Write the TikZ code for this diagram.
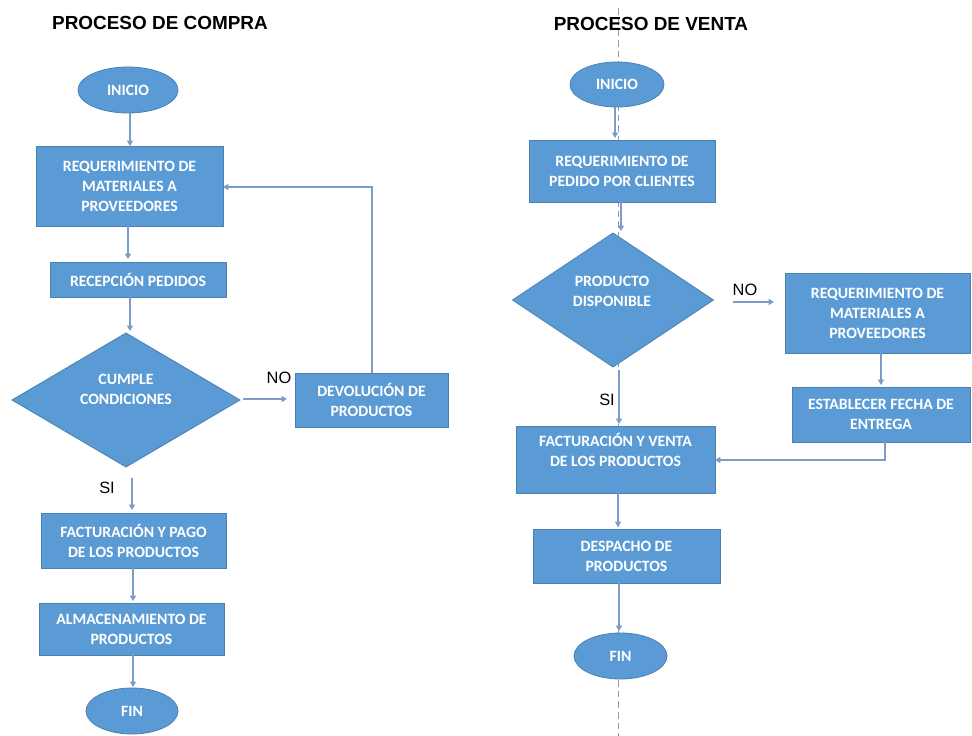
\documentclass[tikz,border=0pt]{standalone}
\usepackage{fontspec}
\setmainfont{Carlito}
\newfontfamily\labfont{Liberation Sans}
\usetikzlibrary{shapes.geometric,arrows.meta}
\definecolor{boxblue}{HTML}{5B9BD5}
\definecolor{boxedge}{HTML}{4A7FB0}
\definecolor{arrowc}{HTML}{7A9CC6}
\definecolor{dashc}{HTML}{9A9A9A}
\newdimen\px \px=0.75pt
\begin{document}
\begin{tikzpicture}[x=0.75pt,y=-0.75pt,
  every node/.style={inner sep=0pt,outer sep=0pt},
  txt/.style={text=white,font=\bfseries\fontsize{11.8}{15}\selectfont,align=center},
  proc/.style={rectangle,draw=boxedge,line width=0.6pt,fill=boxblue,txt},
  term/.style={ellipse,draw=boxedge,line width=0.6pt,fill=boxblue,txt},
  deci/.style={diamond,draw=boxedge,line width=0.6pt,fill=boxblue},
  conn/.style={draw=arrowc,line width=1.1pt,-{Triangle[length=4pt,width=4.5pt]}},
  lab/.style={font=\labfont\fontsize{12.3}{14}\selectfont,text=black},
  ttl/.style={font=\labfont\bfseries\fontsize{14.2}{16}\selectfont,text=black}
]
\useasboundingbox (0,0) rectangle (972,736);
\fill[white] (0,0) rectangle (972,736);

% dashed guide line
\coordinate (dtop) at (618,8);
\coordinate (dbot) at (618,736);
\draw[dashc,line width=0.6pt,dash pattern=on 5pt off 3pt] (dtop) -- (dbot);

% titles
\node[ttl] (t1) at (160,23) {PROCESO DE COMPRA};
\node[ttl] (t2) at (651,24) {PROCESO DE VENTA};

% ---------- left chart ----------
\node[term,minimum width=100\px,minimum height=46\px] (inicioA) at (128,90) {INICIO};
\node[proc,minimum width=187\px,minimum height=80\px] (reqA) at (129.5,186) {REQUERIMIENTO DE\\MATERIALES A\\PROVEEDORES};
\node[proc,minimum width=176\px,minimum height=35\px] (recA) at (138,279.5) {RECEPCIÓN PEDIDOS};
\node[deci,minimum width=228\px,minimum height=134\px] (cumA) at (126,400) {};
\node[txt] (cumT) at (126,389) {CUMPLE\\CONDICIONES};
\node[proc,minimum width=153\px,minimum height=54\px] (devA) at (371.5,400) {DEVOLUCIÓN DE\\PRODUCTOS};
\node[proc,minimum width=185\px,minimum height=55\px] (facA) at (133.5,540.5) {FACTURACIÓN Y PAGO\\DE LOS PRODUCTOS};
\node[proc,minimum width=185\px,minimum height=52\px] (almA) at (131.5,629) {ALMACENAMIENTO DE\\PRODUCTOS};
\node[term,minimum width=92\px,minimum height=46\px] (finA) at (132,711) {FIN};

\coordinate (a1) at (130,113);
\draw[conn] (a1) -- (a1 |- reqA.north);
\coordinate (a2) at (128,226);
\draw[conn] (a2) -- (128,259);
\coordinate (a3) at (130,297);
\draw[conn] (a3) -- (130,331);
\coordinate (noA1) at (243,399);
\draw[conn] (noA1) -- (287,399);
\node[lab] (noA) at (279,378) {NO};
\coordinate (dv) at (372,373);
\draw[conn] (dv) |- (reqA.east |- 0,187);
\coordinate (siA1) at (132,478);
\draw[conn] (siA1) -- (132,510);
\node[lab] (siA) at (107,488) {SI};
\coordinate (a5) at (133,568);
\draw[conn] (a5) -- (133,601);
\coordinate (a6) at (133,655);
\draw[conn] (a6) -- (133,687);

% ---------- right chart ----------
\node[term,minimum width=94\px,minimum height=45\px] (inicioB) at (617,84.5) {INICIO};
\node[proc,minimum width=186\px,minimum height=62\px] (reqB) at (622,171) {REQUERIMIENTO DE\\PEDIDO POR CLIENTES};
\node[deci,minimum width=201\px,minimum height=134\px] (prodB) at (613,300) {};
\node[txt] (prodT) at (612,291) {PRODUCTO\\DISPONIBLE};
\node[proc,minimum width=185\px,minimum height=80\px] (reqM) at (877.5,313) {REQUERIMIENTO DE\\MATERIALES A\\PROVEEDORES};
\node[proc,minimum width=178\px,minimum height=55\px] (estB) at (881,414.5) {ESTABLECER FECHA DE\\ENTREGA};
\node[proc,minimum width=199\px,minimum height=67\px] (facB) at (615.5,459.5) {};
\node[txt] (facT) at (615.5,450) {FACTURACIÓN Y VENTA\\DE LOS PRODUCTOS};
\node[proc,minimum width=187\px,minimum height=54\px] (desB) at (626.5,556) {DESPACHO DE\\PRODUCTOS};
\node[term,minimum width=93\px,minimum height=46\px] (finB) at (620.5,656) {FIN};

\coordinate (b1) at (615,107);
\draw[conn] (b1) -- (615,138);
\coordinate (b2) at (621,202);
\draw[conn] (b2) -- (621,231);
\coordinate (noB1) at (733,302);
\draw[conn] (noB1) -- (774,302);
\node[lab] (noB) at (745,290) {NO};
\coordinate (b3) at (881,353);
\draw[conn] (b3) -- (881,385);
\coordinate (b4) at (885,442);
\draw[conn] (b4) |- (facB.east |- 0,460);
\coordinate (siB1) at (619,370);
\draw[conn] (siB1) -- (619,424);
\node[lab] (siB) at (607,400) {SI};
\coordinate (b5) at (618,493);
\draw[conn] (b5) -- (618,527);
\coordinate (b6) at (619,583);
\draw[conn] (b6) -- (619,631);
\end{tikzpicture}
\end{document}
